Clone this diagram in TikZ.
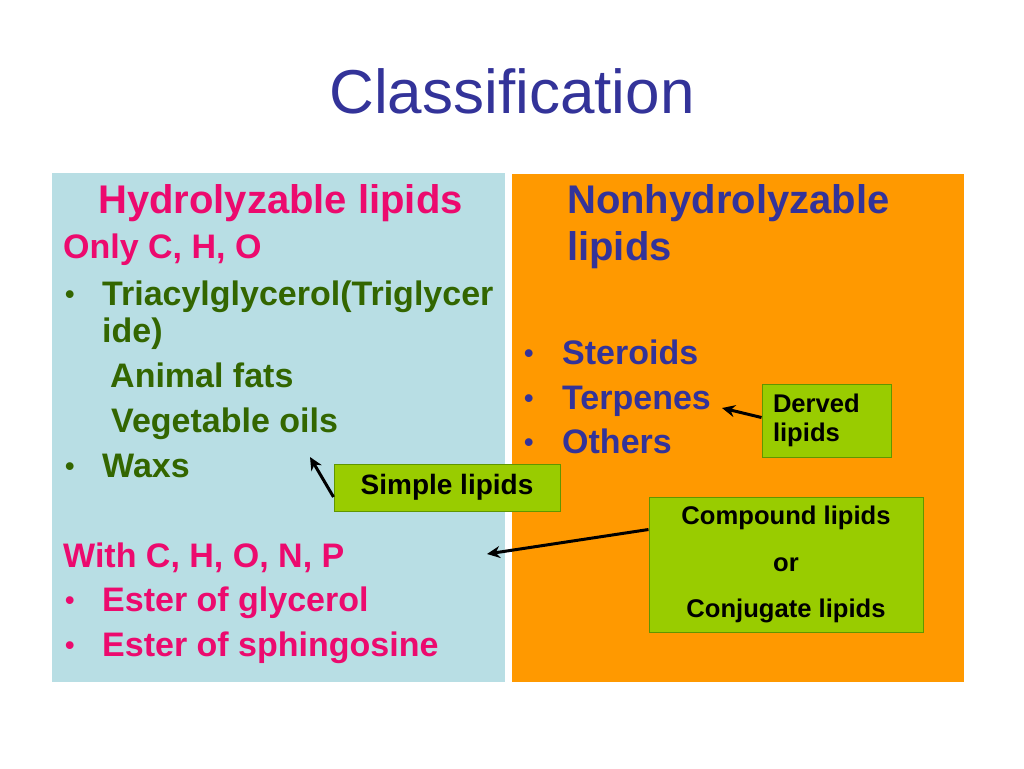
\documentclass[tikz,border=0pt]{standalone}
\usepackage{fontspec}
\setmainfont{Liberation Sans}
\usetikzlibrary{arrows.meta}

\begin{document}
\begin{tikzpicture}[x=1pt,y=1pt,yscale=-1,
  pk/.style={text={rgb,255:red,236;green,10;blue,110}},
  gr/.style={text={rgb,255:red,51;green,102;blue,0}},
  bl/.style={text={rgb,255:red,51;green,51;blue,153}},
  hd/.style={anchor=base west,inner sep=0pt,font=\bfseries\fontsize{40}{46}\selectfont},
  bd/.style={anchor=base west,inner sep=0pt,font=\bfseries\fontsize{34}{40}\selectfont},
  dot/.style={anchor=base west,inner sep=0pt,font=\bfseries\fontsize{27}{32}\selectfont},
  tag/.style={draw={rgb,255:red,96;green,150;blue,0},line width=1pt,fill={rgb,255:red,153;green,204;blue,0},text=black,font=\bfseries},
  lnk/.style={line width=3pt,-{Stealth[length=13pt,width=12pt]}}]
\useasboundingbox (0,0) rectangle (1024,768);

%Shape: Rectangle (left panel)
\fill [fill={rgb,255:red,184;green,222;blue,228}] (52,173) -- (505,173) -- (505,682) -- (52,682) -- cycle ;
%Shape: Rectangle (right panel)
\fill [fill={rgb,255:red,255;green,153;blue,0}] (512,174) -- (964,174) -- (964,682) -- (512,682) -- cycle ;

% Text Node
\draw (512,113) node [anchor=base][inner sep=0pt][bl][font=\fontsize{62}{70}\selectfont] (title) {Classification};

% Text Node
\draw (98,213) node [hd][pk] (hyd) {Hydrolyzable lipids};
% Text Node
\draw (63,258) node [bd][pk] (only) {Only C, H, O};
% Text Node
\draw (65,303) node [dot][gr] (b1) {•};
\draw (102,305) node [bd][gr] (tag1) {Triacylglycerol(Triglycer};
\draw (102,342) node [bd][gr] (tag2) {ide)};
% Text Node
\draw (110,387) node [bd][gr] (fats) {Animal fats};
% Text Node
\draw (111,432) node [bd][gr] (oils) {Vegetable oils};
% Text Node
\draw (65,475) node [dot][gr] (b2) {•};
\draw (102,477) node [bd][gr] (waxs) {Waxs};
% Text Node
\draw (63,567) node [bd][pk] (with) {With C, H, O, N, P};
% Text Node
\draw (65,609) node [dot][pk] (b3) {•};
\draw (102,611) node [bd][pk] (glyc) {Ester of glycerol};
% Text Node
\draw (65,654) node [dot][pk] (b4) {•};
\draw (102,656) node [bd][pk] (sphi) {Ester of sphingosine};

% Text Node
\draw (567,213) node [hd][bl] (nonh) {Nonhydrolyzable};
\draw (567,260) node [hd][bl] (nonh2) {lipids};
% Text Node
\draw (524,362) node [dot][bl] (b5) {•};
\draw (562,364) node [bd][bl] (ster) {Steroids};
% Text Node
\draw (524,407) node [dot][bl] (b6) {•};
\draw (562,409) node [bd][bl] (terp) {Terpenes};
% Text Node
\draw (524,451) node [dot][bl] (b7) {•};
\draw (562,453) node [bd][bl] (oth) {Others};

%Green boxes
\draw (447,487.5) node [tag][minimum width=226pt,minimum height=47pt][font=\bfseries\fontsize{28}{32}\selectfont] (sim) {Simple lipids};
\draw (826.5,420.5) node [tag][inner xsep=11pt,text width=107pt,minimum height=73pt][align=left][font=\bfseries\fontsize{25.6}{29}\selectfont] (drv) {Derved\\lipids};
\draw (786,564.5) node [tag][minimum width=274pt,minimum height=135pt][align=center][font=\bfseries\fontsize{25.6}{46.5}\selectfont] (cmp) {Compound lipids\\or\\Conjugate lipids};

%Arrows
\coordinate (waxtip) at (310,457);
\coordinate (terptip) at (722,408);
\coordinate (cmptip) at (487,554);
\draw [lnk] ([yshift=9.5pt]sim.west) -- (waxtip);
\draw [lnk] ([yshift=-3pt]drv.west) -- (terptip);
\draw [lnk] ([yshift=-35pt]cmp.west) -- (cmptip);
\end{tikzpicture}
\end{document}
